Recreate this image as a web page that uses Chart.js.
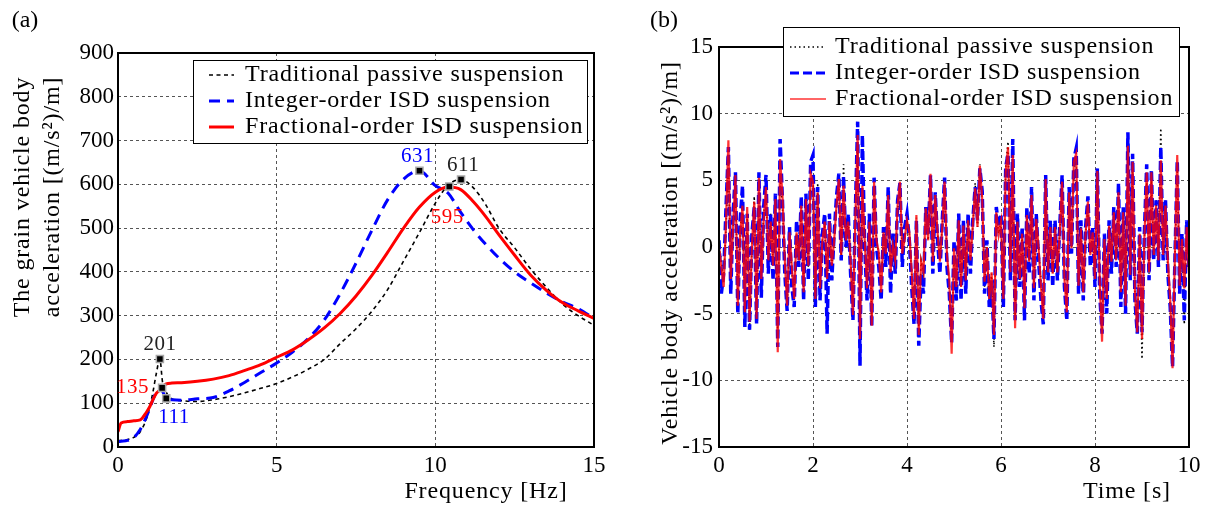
<!DOCTYPE html>
<html>
<head>
<meta charset="utf-8">
<script src="https://cdn.jsdelivr.net/npm/chart.js@4.4.1/dist/chart.umd.min.js"></script>
<style>
  html, body { margin: 0; padding: 0; background: #fff; }
  #wrap { position: relative; width: 1212px; height: 509px; overflow: hidden; }
  #chartA { position: absolute; left: 0; top: 0; }
  #chartB { position: absolute; left: 605px; top: 0; }
</style>
</head>
<body>
<div id="wrap">
  <canvas id="chartA" width="620" height="509"></canvas>
  <canvas id="chartB" width="607" height="509"></canvas>
</div>
<script>
/* Suspension comparison: (a) frequency response, (b) time history */

const SERIF = '"Liberation Serif", "DejaVu Serif", serif';
const LABELS = ['Traditional passive suspension', 'Integer-order ISD suspension', 'Fractional-order ISD suspension'];

// ---- (a) body acceleration gain vs frequency ----
const freqHz = [0, 0.1, 0.3, 0.5, 0.7, 0.9, 1.0, 1.1, 1.2, 1.32, 1.4, 1.52, 1.7,
  2.0, 2.5, 3, 3.5, 4, 4.5, 5, 5.5, 6, 6.5, 7, 7.5, 8, 8.5, 9, 9.5, 10,
  10.4, 10.8, 11.2, 11.6, 12, 12.5, 13, 13.5, 14, 14.5, 15];
const passiveA = [15, 15, 17, 22, 35, 65, 92, 125, 165, 201, 150, 125, 110,
  106, 104, 108, 115, 124, 134, 145, 160, 178, 200, 236, 270, 310, 360, 425, 490, 557,
  598, 611, 592, 552, 500, 455, 407, 365, 327, 300, 278];
const integerA = [12, 13, 15, 22, 40, 70, 88, 108, 125, 135, 128, 111, 108,
  107, 110, 113, 128, 148, 170, 192, 217, 248, 290, 350, 420, 495, 565, 612, 631, 597,
  580, 536, 496, 462, 432, 400, 375, 352, 332, 316, 294];
const fractionalA = [35, 55, 58, 60, 62, 80, 92, 108, 122, 130, 137, 144, 146,
  147, 150, 155, 163, 175, 188, 205, 222, 245, 272, 305, 345, 392, 445, 500, 548, 582,
  594, 588, 560, 525, 485, 438, 393, 358, 330, 311, 294];

// marked peaks
const markFreq = [1.32, 1.39, 1.52, 9.5, 10.44, 10.81];
const markVal = [201, 135, 111, 631, 595, 611];
const markColor = ['#222', '#ff0000', '#0000ff', '#0000ff', '#ff0000', '#222'];
const markOffset = [[0, -15, 'center'], [-13, 0, 'right'], [-8, 19, 'left'], [-2, -14, 'center'], [-2, 31, 'center'], [2, -14, 'center']];

// ---- (b) body acceleration time history, 0.05 s step ----
const timeS = Array.from({ length: 201 }, (_, i) => Math.round(i * 5) / 100);
const blackB = [
  0, -1, -2.5, 1.5, 6.5, -2, 1.5, 4.5, -4, 1,
  3.5, -5, 2.5, -6.3, 0, 3.8, -5, 4.5, -2, 2.5,
  4, -1, 2.5, -1, 3, -6.5, 5.5, 3, -1, -4.8,
  1, -2, -3.5, 1, -1, 3, -3, 3.5, -1.5, 5,
  5.2, -3.5, 4.8, -3, 0.5, 1.5, -3.5, 1.5, -1.5, 0.5,
  3, 4.5, -1, 6.2, 0.5, 2, -1, -4.5, 2, 7.2,
  -6, 4.2, 0.5, -3, 1.5, -5.2, 4.2, 0.5, -0.5, -3,
  1, -0.5, 3.5, -1.5, 0, -1, 2.8, 4.2, -0.5, 0.5,
  2, 1, -2, -5.5, 2.2, -6, -1, -2, 2.5, 0.5,
  4.5, -1, 3.5, 1, -1, 1.5, 4.3, -0.5, -3.5, -6.8,
  -1, -4, 1.5, -3, 1.5, -2.5, 1.8, -1, 1.5, 4.8,
  1.5, 6.2, 3.5, -3, 0, -4.5, -2, -7.5, 2.5, 1,
  2, -3.5, 6, 7.9, -1.5, 6, -5.5, 1.5, -2.5, 1,
  -4, 2.5, -1, 3.5, -3, 2, 0, -2.5, -4.8, 4.5,
  -1.5, 1.5, -2, 1.5, -2, 1, 4.5, -2, -4.5, 3.8,
  0, 5.8, 6.5, -2.5, 1.5, -3, 1, 3, -0.5, 1,
  -2.5, 5.2, -2.5, -6.5, 0.5, -3.5, 1.5, -1, 2.5, -1,
  3.8, -3, 2.5, -4, 7, -2, 6, -3.5, -6.5, 1,
  -8.4, 0.5, 5, -2, 5, -0.5, 3.5, -1, 8.9, -0.5,
  3.5, -2, -4.5, -8, -1, 6, -3, 0.5, -5.8, 1.5, -1.5];
const blueB = [
  0.5, -3.5, -2, 3, 7.5, -3.5, 2.5, 5.6, -5, 2,
  4.6, -6, 2.5, -6.2, 1, 3, -5.8, 5.6, -3.8, 3,
  5.4, -2, 2.5, -2.5, 4, -7.5, 8.1, 3.5, -2, -4.8,
  1.5, -3, -4.5, 2, -1.5, 3.8, -4, 4, -2.5, 6.4,
  6.9, -4.5, 4.5, -4, 1, 2.5, -6.5, 2.5, -2.5, 1,
  3.8, 5.5, -1, 5.3, 0, 2.5, -2, -5.5, 2.5, 9.4,
  -8.9, 8.4, 0, -4, 2.5, -6, 5.2, 0, -1.5, -4,
  1.5, -1.5, 4.5, -3.5, 1, -2, 3.5, 4.8, -1.5, 1.5,
  2.5, 0.5, -3, -5.8, 2, -7.4, -2, -3.5, 3, 1,
  5.4, -2, 4.1, 0.5, -2, 2, 5.2, -1.5, -3.5, -7.2,
  0.5, -4, 2.5, -4, 2, -3.5, 2.5, -2, 2, 4.5,
  2, 5.9, 4.2, -3.5, 0.5, -4.5, -2.5, -6.9, 3, 1.5,
  2.5, -4.5, 6, 7, -2.5, 8.1, -5.5, 2.5, -3, 1.5,
  -5.5, 3, -2, 4.5, -4, 2.5, -1, -4, -5.8, 5.4,
  -2.5, 2, -3, 2, -2.5, 1.5, 5.4, -3, -5.5, 4.5,
  -0.5, 6.6, 7.4, -3.5, 2, -4, 1.5, 3.8, -1.5, 1.5,
  -3, 5.9, -3.5, -6.5, 1, -5, 2, -2, 3, -1.5,
  4.8, -4.5, 3, -5, 8.6, -2.5, 7, -4, -6.5, 1.5,
  -6.4, 1, 6.2, -2.5, 5.8, -1, 3.5, -1.5, 7.5, -1,
  3.5, -2, -4.5, -9, -1, 6.5, -3.5, 1, -5.5, 2, -1.5];
const redB = [
  0, -1.5, -3, 2, 8, -2.4, 1.5, 5.4, -4.4, 1,
  3.1, -4.9, 3, -5.6, 0, 3.4, -5.4, 5.2, -2.4, 2,
  4.5, -1, 1.9, -1.4, 3.6, -7.9, 6.6, 3.9, -1, -4.4,
  1.1, -1.5, -3.9, 1.1, -1, 3.1, -3.4, 3.6, -1.4, 5.5,
  4.9, -3.9, 4.1, -3.1, 0.5, 1.9, -2.4, 1.9, -1.4, 0.5,
  3.1, 5.1, -0.6, 4.6, 0.5, 1.9, -1.1, -5.1, 2, 8.4,
  -6.9, 4.6, 0.5, -3.1, 1.9, -5.9, 4.9, 0.5, -0.4, -3.4,
  1.1, -0.5, 3.9, -1.9, 0.1, -1, 3.1, 4.9, -0.5, 0.6,
  2, 1.1, -1.9, -5.4, 2.4, -6.6, -1.1, -1.9, 2.9, 0.5,
  5.5, -1.1, 3.9, 1.1, -1.1, 1.5, 4.9, -0.6, -2.4, -8,
  -0.1, -3, 2, -3, 1.6, -2.5, 2, -1, 1.6, 4.4,
  1.5, 6.1, 3.6, -2.6, 0, -3.9, -1.9, -6.6, 2.6, 0.9,
  1.9, -3.9, 5.6, 7.5, -1.9, 6.9, -6.1, 1.9, -2.4, 1,
  -4.6, 2.4, -1.1, 3.9, -3.1, 2.1, -0.1, -2.9, -5.4, 5.1,
  -1.9, 1.5, -2, 1.5, -1.9, 1.1, 4.9, -2.4, -4.9, 4.1,
  -0.1, 6.4, 7, -2.9, 1.4, -3.4, 1, 3.4, -0.6, 1.1,
  -2.4, 5.7, -2.6, -7.1, 0.6, -3.9, 1.6, -1.1, 2.6, -1,
  4.1, -3.4, 2.6, -4.4, 7.6, -2.1, 6.4, -3.4, -6.4, 1,
  -6.9, 0.6, 5.6, -1.9, 5.6, -0.6, 3.1, -1, 6.5, -0.6,
  3.1, -1, -3.9, -9.1, -0.6, 6.9, -2.9, 0.6, -3.1, 1.5, -2];

const xy = (xs, ys) => xs.map((x, i) => ({ x, y: ys[i] }));

function text(ctx, str, x, y, opts = {}) {
  ctx.save();
  ctx.font = `${opts.size || 24}px ${SERIF}`;
  ctx.letterSpacing = (opts.ls === undefined ? 0.85 : opts.ls) + 'px';
  ctx.fillStyle = opts.color || '#000';
  ctx.textAlign = opts.align || 'center';
  ctx.textBaseline = 'middle';
  ctx.translate(x, y);
  if (opts.rot) ctx.rotate(opts.rot);
  ctx.fillText(str, 0, 0);
  ctx.restore();
}

function drawFrame(chart) {
  const { ctx, chartArea: a } = chart;
  ctx.save();
  ctx.strokeStyle = '#000';
  ctx.lineWidth = 2;
  ctx.strokeRect(a.left, a.top, a.right - a.left, a.bottom - a.top);
  ctx.restore();
}

function drawLegend(chart, box) {
  const { ctx } = chart;
  ctx.save();
  ctx.fillStyle = '#fff';
  ctx.fillRect(box.x, box.y, box.w, box.h);
  ctx.strokeStyle = '#000';
  ctx.lineWidth = 1;
  ctx.strokeRect(box.x + 0.5, box.y + 0.5, box.w, box.h);
  LABELS.forEach((label, i) => {
    const d = chart.data.datasets.find(ds => ds.label === label);
    const y = box.y + box.row0 + i * box.rowGap;
    ctx.save();
    ctx.strokeStyle = d.borderColor;
    ctx.lineWidth = d.legendWidth || d.borderWidth;
    ctx.setLineDash(d.borderDash || []);
    ctx.beginPath();
    ctx.moveTo(box.x + box.l0, y);
    ctx.lineTo(box.x + box.l1, y);
    ctx.stroke();
    ctx.restore();
    text(ctx, label, box.x + box.tx, y, { align: 'left' });
  });
  ctx.restore();
}

function axisStyle(min, max, step, pad, fit) {
  return {
    type: 'linear', min, max,
    ticks: { stepSize: step, color: '#000', padding: pad, font: { family: SERIF, size: 23 } },
    grid: { color: '#555', lineWidth: 1, drawTicks: false },
    border: { display: false, dash: [3, 3] },
    afterFit: fit
  };
}

// ---------- panel (a) ----------
const panelA = {
  id: 'panelA',
  afterDraw(chart) {
    const { ctx, chartArea: a, scales } = chart;
    drawFrame(chart);
    markFreq.forEach((f, i) => {
      const [dx, dy, align] = markOffset[i];
      text(ctx, String(markVal[i]), scales.x.getPixelForValue(f) + dx, scales.y.getPixelForValue(markVal[i]) + dy,
        { color: markColor[i], align, size: 21, ls: 0.5 });
    });
    drawLegend(chart, { x: a.right - 401, y: a.top + 7, w: 394, h: 83, row0: 15, rowGap: 26, l0: 16, l1: 41, tx: 52 });
    text(ctx, '(a)', 25, 21, { ls: 0 });
    text(ctx, 'The grain vehicle body', 23, 197, { rot: -Math.PI / 2 });
    text(ctx, 'acceleration [(m/s²)/m]', 53, 197, { rot: -Math.PI / 2 });
    text(ctx, 'Frequency [Hz]', 486, 492);
  }
};

new Chart(document.getElementById('chartA'), {
  type: 'line',
  data: {
    datasets: [
      { label: 'marks', data: xy(markFreq, markVal), showLine: false, pointStyle: 'rect', pointRadius: 5,
        pointBackgroundColor: '#000', pointBorderColor: '#a8a8a8', pointBorderWidth: 1.5, order: 0 },
      { label: LABELS[2], data: xy(freqHz, fractionalA), borderColor: '#ff0000', borderWidth: 3, order: 1 },
      { label: LABELS[1], data: xy(freqHz, integerA), borderColor: '#0000ff', borderWidth: 3, borderDash: [11, 7], order: 2 },
      { label: LABELS[0], data: xy(freqHz, passiveA), borderColor: '#000', borderWidth: 1.6, borderDash: [4, 3.5], order: 3 }
    ]
  },
  options: {
    responsive: false, animation: false, devicePixelRatio: 1,
    layout: { padding: { top: 53, right: 26, left: 0, bottom: 0 } },
    elements: { point: { radius: 0 }, line: { cubicInterpolationMode: 'monotone', fill: false } },
    plugins: { legend: { display: false }, tooltip: { enabled: false } },
    scales: {
      x: axisStyle(0, 15, 5, 5, s => { s.height = 62; }),
      y: axisStyle(0, 900, 100, 4, s => { s.width = 118; })
    }
  },
  plugins: [panelA]
});

// ---------- panel (b) ----------
const panelB = {
  id: 'panelB',
  afterDraw(chart) {
    const { ctx, chartArea: a } = chart;
    drawFrame(chart);
    drawLegend(chart, { x: a.right - 406, y: a.top - 20, w: 396, h: 89, row0: 20, rowGap: 26, l0: 7, l1: 43, tx: 52 });
    text(ctx, '(b)', 59, 21, { ls: 0 });
    text(ctx, 'Vehicle body acceleration [(m/s²)/m]', 66, 253, { rot: -Math.PI / 2 });
    text(ctx, 'Time [s]', 522, 492);
  }
};

new Chart(document.getElementById('chartB'), {
  type: 'line',
  data: {
    datasets: [
      { label: LABELS[2], data: xy(timeS, redB), borderColor: 'rgba(255,0,0,0.8)', borderWidth: 2.2, legendWidth: 1.5, order: 0 },
      { label: LABELS[1], data: xy(timeS, blueB), borderColor: '#0000ff', borderWidth: 3.5, legendWidth: 3, borderDash: [9, 4], order: 1 },
      { label: LABELS[0], data: xy(timeS, blackB), borderColor: '#000', borderWidth: 1.6, borderDash: [1.5, 3], order: 2 }
    ]
  },
  options: {
    responsive: false, animation: false, devicePixelRatio: 1,
    layout: { padding: { top: 47, right: 23, left: 0, bottom: 0 } },
    elements: { point: { radius: 0 }, line: { tension: 0, fill: false } },
    plugins: { legend: { display: false }, tooltip: { enabled: false } },
    scales: {
      x: axisStyle(0, 10, 2, 5, s => { s.height = 62; }),
      y: axisStyle(-15, 15, 5, 6, s => { s.width = 114; })
    }
  },
  plugins: [panelB]
});
</script>
</body>
</html>
